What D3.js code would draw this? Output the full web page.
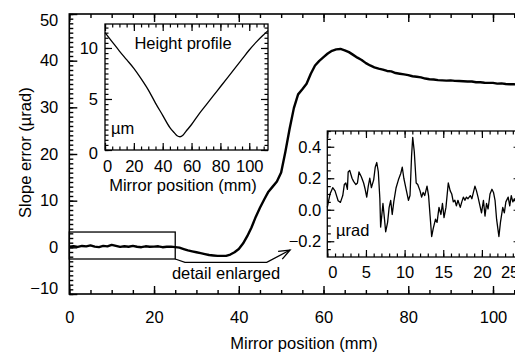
<!DOCTYPE html>
<html>
<head>
<meta charset="utf-8">
<script src="https://cdn.jsdelivr.net/npm/d3@7"></script>
<style>
  body { margin: 0; background: #fff; }
  svg { display: block; }
  text { font-family: "Liberation Sans", Arial, Helvetica, sans-serif; fill: #000; }
</style>
</head>
<body>
<svg id="chart" width="515" height="353"></svg>
<script>
// Slope error along the mirror (µrad), sampled every millimetre
const mirrorPos = [0,1,2,3,4,5,6,7,8,9,10,11,12,13,14,15,16,17,18,19,20,21,22,23,24,25,26,27,28,29,
  30,31,32,33,34,35,36,37,38,39,40,41,42,43,44,45,46,47,48,49,50,51,52,53,54,55,56,57,58,59,
  60,61,62,63,64,65,66,67,68,69,70,71,72,73,74,75,76,77,78,79,80,81,82,83,84,85,86,87,88,89,
  90,91,92,93,94,95,96,97,98,99,100,101,102,103,104,105,106];
const slopeError = [0.12,0.25,0.10,0.30,0.20,0.42,0.15,0.05,0.32,0.20,0.52,0.30,0.10,0.22,0.12,0.32,0.12,0.03,0.22,0.12,
  0.15,0.22,0.03,0.12,0.15,0.05,-0.07,-0.37,-0.66,-0.86,-1.06,-1.25,-1.45,-1.65,-1.74,-1.84,-1.84,-1.84,-1.55,-1.06,
  -0.37,0.81,2.39,4.26,6.52,8.49,10.26,11.93,13.01,14.09,16.06,20.48,25.4,29.83,32.78,33.86,35.04,37.2,38.97,39.96,
  40.74,41.53,42.12,42.42,42.51,42.22,41.83,41.24,40.65,40.15,39.47,38.97,38.58,38.29,38.09,37.79,37.7,37.35,37.2,37.05,
  36.91,36.66,36.56,36.42,36.17,36.02,35.97,35.83,35.78,35.73,35.78,35.68,35.63,35.58,35.53,35.53,35.38,35.38,35.28,35.24,
  35.24,35.09,35.14,35.0,34.94,34.94,34.84];

// Height profile (µm)
const heightPos = [0,5,10,15,20,25,30,35,40,45,48,50,52,54,56,60,65,70,75,80,85,90,95,100,105,110,113];
const heightVal = [11.5,10.6,9.7,8.85,8.0,7.0,5.9,4.6,3.4,2.2,1.7,1.4,1.3,1.45,1.8,2.5,3.5,4.4,5.3,6.2,7.1,8.0,8.9,9.8,10.6,11.3,11.7];

// Enlarged detail of the first 25 mm (µrad)
const detailPos = [0,0.35,0.7,1.0,1.4,1.7,2.0,2.2,2.4,2.6,2.7,2.9,3.2,3.4,3.7,3.9,4.1,4.4,4.7,4.9,
  5.1,5.3,5.5,5.7,6.0,6.2,6.4,6.6,6.8,6.9,7.2,7.4,7.55,7.8,8.0,8.2,8.4,8.6,8.9,9.2,
  9.5,9.7,9.9,10.2,10.5,10.7,10.9,11.05,11.25,11.5,11.7,12.0,12.2,12.4,12.6,12.9,13.1,13.3,13.5,13.7,
  14.0,14.2,14.45,14.7,14.9,15.1,15.35,15.65,15.9,16.1,16.3,16.5,16.7,16.9,17.2,17.4,17.6,17.8,18.0,18.2,
  18.5,18.7,18.9,19.1,19.3,19.5,19.75,19.95,20.2,20.4,20.6,20.8,21.05,21.3,21.5,21.7,21.9,22.2,22.4,22.7,
  22.9,23.1,23.4,23.6,23.8,24.0,24.2,24.5,24.8];
const detailVal = [0.015,0.10,0.14,0.12,0.057,0.047,0.09,0.16,0.17,0.13,0.24,0.25,0.20,0.18,0.16,0.17,0.24,0.21,0.17,0.13,
  0.08,0.15,0.20,0.14,0.19,0.27,0.30,0.24,0.07,-0.11,0.04,-0.06,-0.14,-0.08,0.015,0.06,-0.03,0.05,0.14,0.19,
  0.23,0.27,0.20,0.13,0.06,0.09,0.34,0.46,0.37,0.17,0.16,0.12,0.08,0.11,0.09,0.15,0.09,-0.04,-0.17,-0.12,
  -0.06,-0.08,0.015,-0.03,0.04,-0.05,0.015,0.17,0.12,0.10,0.05,0.06,0.025,0.06,0.015,0.05,0.08,0.06,0.08,0.07,
  0.09,0.07,0.11,0.15,0.12,0.08,0.025,-0.02,0.06,-0.04,0.04,0.005,0.10,0.13,0.11,0.06,-0.06,-0.17,-0.08,0.015,
  -0.02,0.05,0.08,0.025,0.09,0.05,0.07,0.03,0.06];

// Axis ticks
const mainXTicks = [0,20,40,60,80,100];
const mainYTicks = [-10,0,10,20,30,40,50];
const heightXTicks = [0,20,40,60,80,100];
const heightYTicks = [0,5,10];
const detailXTicks = [0,5,10,15,20,25];
const detailYTicks = [-0.2,0.0,0.2,0.4];

// Marked region and connector (data units of the main plot)
const detailSpan = [0, 25];
const detailBand = [-2.5, 3.28];

const svg = d3.select("#chart");
const FS = 16.5;

// ---------- helpers ----------
function ticksBetween(lo, hi, step) {
  const out = [];
  const n = Math.round((hi - lo) / step);
  for (let i = 0; i <= n; i++) out.push(+(lo + i * step).toFixed(6));
  return out;
}

// Boxed axes with inward ticks on all four sides; returns the labelled axes
function frameAxes(g, x, y, opt) {
  const [x0, x1] = x.range();
  const [y0, y1] = y.range(); // y0 bottom, y1 top
  const xmin = x.domain()[0], xmax = x.domain()[1];
  const ymin = y.domain()[0], ymax = y.domain()[1];
  const xMinor = ticksBetween(Math.ceil(xmin / opt.xMinorStep) * opt.xMinorStep, xmax, opt.xMinorStep).filter(v => v <= xmax);
  const yMinor = ticksBetween(Math.ceil(ymin / opt.yMinorStep) * opt.yMinorStep, ymax, opt.yMinorStep).filter(v => v <= ymax);

  g.append("rect").attr("x", x0).attr("y", y1).attr("width", x1 - x0).attr("height", y0 - y1)
    .attr("fill", opt.fill || "none").attr("stroke", "#000").attr("stroke-width", opt.sw);

  const tickAttrs = sel => sel.selectAll(".tick line").attr("stroke-width", opt.tw);
  const labelAttrs = sel => sel.selectAll("text").attr("font-size", FS).attr("font-family", null);

  // bottom
  g.append("g").attr("transform", `translate(0,${y0})`)
    .call(d3.axisBottom(x).tickValues(xMinor).tickSize(-opt.minor).tickFormat(""))
    .call(s => s.select(".domain").remove()).call(tickAttrs);
  const bottom = g.append("g").attr("transform", `translate(0,${y0})`)
    .call(d3.axisBottom(x).tickValues(opt.xTicks).tickSize(-opt.major).tickPadding(opt.xPad).tickFormat(opt.xFmt))
    .call(s => s.select(".domain").remove()).call(tickAttrs).call(labelAttrs);
  // top
  g.append("g").attr("transform", `translate(0,${y1})`)
    .call(d3.axisTop(x).tickValues(xMinor).tickSize(-opt.minor).tickFormat(""))
    .call(s => s.select(".domain").remove()).call(tickAttrs);
  g.append("g").attr("transform", `translate(0,${y1})`)
    .call(d3.axisTop(x).tickValues(opt.xTicks).tickSize(-opt.major).tickFormat(""))
    .call(s => s.select(".domain").remove()).call(tickAttrs);
  // left
  g.append("g").attr("transform", `translate(${x0},0)`)
    .call(d3.axisLeft(y).tickValues(yMinor).tickSize(-opt.minor).tickFormat(""))
    .call(s => s.select(".domain").remove()).call(tickAttrs);
  const left = g.append("g").attr("transform", `translate(${x0},0)`)
    .call(d3.axisLeft(y).tickValues(opt.yTicks).tickSize(-opt.major).tickPadding(opt.yPad).tickFormat(opt.yFmt))
    .call(s => s.select(".domain").remove()).call(tickAttrs).call(labelAttrs);
  // right
  g.append("g").attr("transform", `translate(${x1},0)`)
    .call(d3.axisRight(y).tickValues(yMinor).tickSize(-opt.minor).tickFormat(""))
    .call(s => s.select(".domain").remove()).call(tickAttrs);
  g.append("g").attr("transform", `translate(${x1},0)`)
    .call(d3.axisRight(y).tickValues(opt.yTicks).tickSize(-opt.major).tickFormat(""))
    .call(s => s.select(".domain").remove()).call(tickAttrs);
  return { left, bottom };
}

// ---------- main plot ----------
const x = d3.scaleLinear().domain([0, 110]).range([69.3, 69.3 + 110 * 4.237]);
const y = d3.scaleLinear().domain([-10, 50]).range([294, 14]);

const gMain = svg.append("g");
const mainAxes = frameAxes(gMain, x, y, {
  sw: 1.6, tw: 1.4, major: 8, minor: 4,
  xTicks: mainXTicks, yTicks: mainYTicks, xMinorStep: 5, yMinorStep: 1,
  xPad: 17, yPad: 11, xFmt: d3.format("d"), yFmt: d3.format("d")
});
// keep the end labels inside the frame height
mainAxes.left.selectAll(".tick text").attr("y", d => d === 50 ? 6 : d === -10 ? -6 : 0);

gMain.append("text").attr("x", x(55.4)).attr("y", 349)
  .attr("text-anchor", "middle").attr("font-size", FS).text("Mirror position (mm)");
gMain.append("text").attr("transform", `translate(31,${y(20.3)}) rotate(-90)`)
  .attr("text-anchor", "middle").attr("font-size", FS).text("Slope error (µrad)");

// marked region
gMain.append("rect")
  .attr("x", x(detailSpan[0])).attr("y", y(detailBand[1]))
  .attr("width", x(detailSpan[1]) - x(detailSpan[0])).attr("height", y(detailBand[0]) - y(detailBand[1]))
  .attr("fill", "none").attr("stroke", "#000").attr("stroke-width", 1.3);

const mainLine = d3.line().x((d, i) => x(mirrorPos[i])).y(d => y(d));
gMain.append("path").datum(slopeError).attr("d", mainLine)
  .attr("fill", "none").attr("stroke", "#000").attr("stroke-width", 2.4).attr("stroke-linejoin", "round");

// connector to the enlarged view
const conn = [[detailSpan[1], detailBand[0]], [27.3, -3.21], [46.6, -3.21], [52.1, -0.58]];
gMain.append("path").attr("d", d3.line().x(d => x(d[0])).y(d => y(d[1]))(conn))
  .attr("fill", "none").attr("stroke", "#000").attr("stroke-width", 1.3);
{
  const [ax, ay] = [x(46.6), y(-3.21)], [bx, by] = [x(52.1), y(-0.58)];
  const ang = Math.atan2(by - ay, bx - ax), L = 12, spread = 0.38;
  const head = [[bx - L * Math.cos(ang - spread), by - L * Math.sin(ang - spread)], [bx, by],
                [bx - L * Math.cos(ang + spread), by - L * Math.sin(ang + spread)]];
  gMain.append("path").attr("d", d3.line()(head)).attr("fill", "none").attr("stroke", "#000").attr("stroke-width", 1.3);
}
gMain.append("text").attr("x", x(37)).attr("y", 279).attr("text-anchor", "middle")
  .attr("font-size", FS).text("detail enlarged");

// ---------- height profile inset ----------
const hx = d3.scaleLinear().domain([0, 113]).range([105, 268]);
const hy = d3.scaleLinear().domain([0, 12.35]).range([150, 24]);
const gH = svg.append("g");
const hAxes = frameAxes(gH, hx, hy, {
  fill: "#fff", sw: 1.3, tw: 1.2, major: 7, minor: 3.5,
  xTicks: heightXTicks, yTicks: heightYTicks, xMinorStep: 5, yMinorStep: 0.5,
  xPad: 10, yPad: 7, xFmt: d3.format("d"), yFmt: d3.format("d")
});
hAxes.bottom.selectAll(".tick text").attr("x", d => d === 0 ? 2 : 0);
hAxes.left.selectAll(".tick text").attr("y", d => d === 0 ? 3 : 0);
gH.append("path").datum(heightVal)
  .attr("d", d3.line().curve(d3.curveMonotoneX).x((d, i) => hx(heightPos[i])).y(d => hy(d)))
  .attr("fill", "none").attr("stroke", "#000").attr("stroke-width", 1.3);
gH.append("text").attr("x", 183).attr("y", 49).attr("text-anchor", "middle").attr("font-size", FS).text("Height profile");
gH.append("text").attr("x", 111).attr("y", 134).attr("font-size", FS).text("µm");
gH.append("text").attr("x", 183).attr("y", 191)
  .attr("text-anchor", "middle").attr("font-size", FS).text("Mirror position (mm)");

// ---------- enlarged detail inset ----------
const dx = d3.scaleLinear().domain([0, 25]).range([327.3, 327.3 + 25 * 7.73]);
const dy = d3.scaleLinear().domain([-0.3, 0.5]).range([257, 131]);
const gD = svg.append("g");
const dAxes = frameAxes(gD, dx, dy, {
  fill: "#fff", sw: 1.3, tw: 1.2, major: 7, minor: 3.5,
  xTicks: detailXTicks, yTicks: detailYTicks, xMinorStep: 1, yMinorStep: 0.05,
  xPad: 9, yPad: 6, xFmt: d3.format("d"), yFmt: d3.format(".1f")
});
// end labels pulled in from the frame corners
dAxes.bottom.selectAll(".tick text").attr("x", d => d === 0 ? 5 : d === 25 ? -11 : 0);
gD.append("path").datum(detailVal)
  .attr("d", d3.line().x((d, i) => dx(detailPos[i])).y(d => dy(d)))
  .attr("fill", "none").attr("stroke", "#000").attr("stroke-width", 1.3).attr("stroke-linejoin", "round");
gD.append("text").attr("x", 336).attr("y", 236).attr("font-size", FS).text("µrad");
</script>
</body>
</html>
